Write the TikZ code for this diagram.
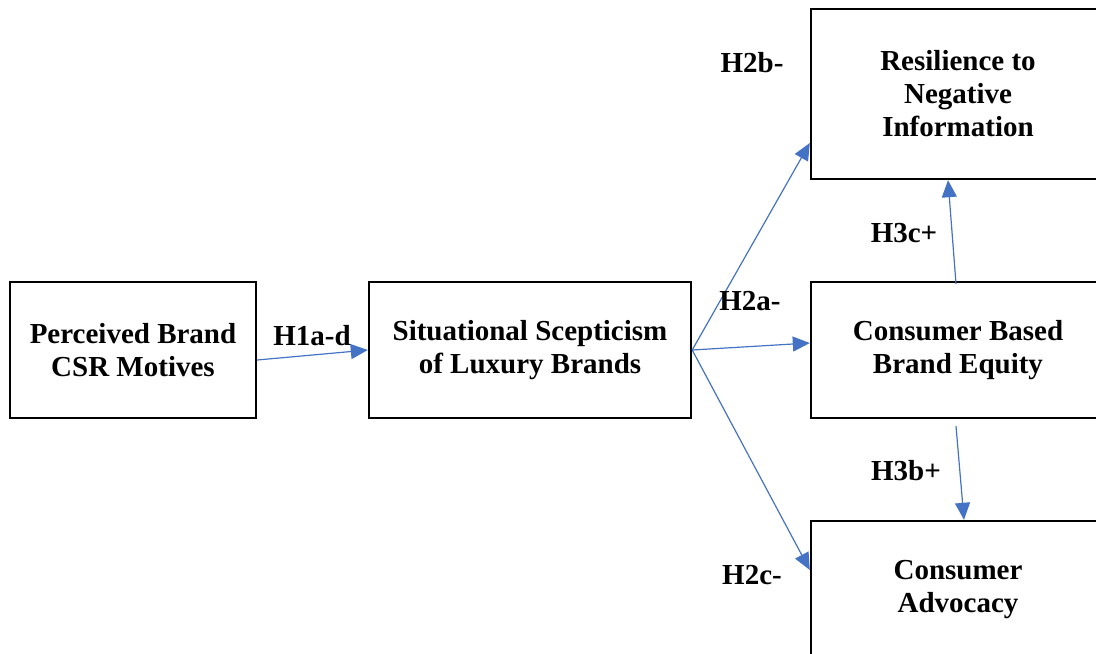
\documentclass[tikz,border=0pt]{standalone}
\usepackage{fontspec}
\setmainfont{Liberation Serif}
\usetikzlibrary{arrows.meta,positioning}

\definecolor{linkblue}{HTML}{4472C4}

\begin{document}
\begin{tikzpicture}[
    x=0.5pt, y=-0.5pt,
    every node/.style={
        font=\fontsize{14.5}{16.5}\selectfont\bfseries,
        align=center,
        inner sep=0pt
    },
    box/.style={
        draw, line width=1.2pt,
        minimum height=68pt
    },
    link/.style={
        draw=linkblue, line width=0.6pt,
        -{Triangle[length=8.5pt,width=7.5pt]}
    },
    hyp/.style={}
]
\clip (0,0) rectangle (1096,653);

% constructs
\node[box, minimum width=123pt] (perceived) at (133,350) {Perceived Brand\\CSR Motives};
\node[box, minimum width=161pt] (scepticism) at (530,350) {Situational Scepticism\\of Luxury Brands};
\node[box, minimum width=147pt, minimum height=85pt] (resilience) at (958,94) {Resilience to\\Negative\\Information};
\node[box, minimum width=147pt] (equity) at (958,350) {Consumer Based\\Brand Equity};
\node[box, minimum width=147pt, minimum height=69pt] (advocacy) at (958,590) {Consumer\\Advocacy};

% paths
\draw[link] ([yshift=-5pt]perceived.east) -- (scepticism.west);
\draw[link] (scepticism.east) -- ([yshift=-24.5pt]resilience.west);
\draw[link] (scepticism.east) -- ([yshift=3.5pt]equity.west);
\draw[link] (scepticism.east) -- ([yshift=10pt]advocacy.west);
\draw[link] ([xshift=-1pt,yshift=-1.5pt]equity.north) -- ([xshift=-5pt]resilience.south);
\draw[link] ([xshift=-1pt,yshift=-3.5pt]equity.south) -- ([xshift=3pt]advocacy.north);

% hypotheses
\node[hyp] (h1) at (312,336) {H1a-d};
\node[hyp] (h2b) at (752,63) {H2b-};
\node[hyp] (h2a) at (750,301) {H2a-};
\node[hyp] (h2c) at (752,575) {H2c-};
\node[hyp] (h3c) at (904,233) {H3c+};
\node[hyp] (h3b) at (906,471) {H3b+};
\end{tikzpicture}
\end{document}
